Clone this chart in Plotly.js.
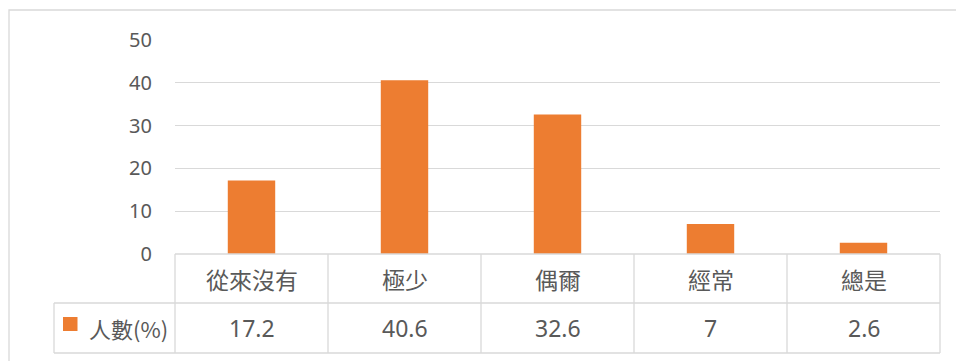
<!DOCTYPE html>
<html>
<head>
<meta charset="utf-8">
<script src="https://cdn.plot.ly/plotly-3.0.1.min.js"></script>
<style>html,body{margin:0;padding:0;background:#fff}#chart{width:956px;height:361px}</style>
</head>
<body>
<div id="chart"></div>
<script>
const categories = ['從來沒有', '極少', '偶爾', '經常', '總是'];
const values = [17.2, 40.6, 32.6, 7, 2.6];
const seriesName = '人數(%)';
const yTicks = [0, 10, 20, 30, 40, 50];

const W = 956, H = 361;
const plotL = 175, plotR = 940, plotT = 40, plotB = 254;
const row1B = 303, row2B = 353, legL = 54;
const grid = '#D9D9D9', txt = '#595959', orange = '#ED7D31';
const font = '"Noto Sans", "Noto Sans CJK TC", sans-serif';
const cjkFont = '"Noto Sans CJK TC", "Noto Sans", sans-serif';

const px = x => x / W;
const py = y => 1 - y / H;

const shapes = [];
function line(x0, y0, x1, y1, w) {
  shapes.push({type: 'line', xref: 'paper', yref: 'paper', x0: px(x0), y0: py(y0), x1: px(x1), y1: py(y1),
    line: {color: grid, width: w || 1.3}, layer: 'above'});
}
// outer chart border
shapes.push({type: 'rect', xref: 'paper', yref: 'paper', x0: px(9), y0: py(10), x1: px(970), y1: py(375),
  line: {color: grid, width: 1.3}, fillcolor: 'rgba(0,0,0,0)', layer: 'below'});
// table lines
line(plotL, plotB, plotR, plotB);
line(legL, row1B, plotR, row1B);
line(legL, row2B, plotR, row2B);
line(legL, row1B, legL, row2B);
const colW = (plotR - plotL) / categories.length;
for (let i = 0; i <= categories.length; i++) {
  const x = plotL + i * colW;
  line(x, plotB, x, row2B);
}
// legend key
shapes.push({type: 'rect', xref: 'paper', yref: 'paper', x0: px(63), y0: py(317), x1: px(77.5), y1: py(331),
  line: {width: 0}, fillcolor: orange, layer: 'above'});

const annotations = [];
categories.forEach((c, i) => {
  annotations.push({x: c, xref: 'x', y: py((plotB + row1B) / 2), yref: 'paper', text: c, showarrow: false,
    font: {family: cjkFont, size: 23, color: txt}, xanchor: 'center', yanchor: 'middle'});
  annotations.push({x: c, xref: 'x', y: py((row1B + row2B) / 2), yref: 'paper', text: String(values[i]), showarrow: false,
    font: {family: font, size: 23, color: txt}, xanchor: 'center', yanchor: 'middle'});
});
annotations.push({x: px(87), xref: 'paper', y: py((row1B + row2B) / 2), yref: 'paper', text: seriesName, showarrow: false,
  font: {family: cjkFont, size: 22, color: txt}, xanchor: 'left', yanchor: 'middle'});

const data = [{
  type: 'bar', x: categories, y: values, name: seriesName,
  marker: {color: orange, line: {width: 0}}, width: 0.31, hoverinfo: 'skip'
}];

const layout = {
  width: W, height: H,
  margin: {l: 0, r: 0, t: 0, b: 0},
  paper_bgcolor: '#fff', plot_bgcolor: 'rgba(0,0,0,0)',
  showlegend: false,
  xaxis: {domain: [px(plotL), px(plotR)], type: 'category', showticklabels: false, showgrid: false,
    zeroline: false, showline: false, ticks: '', fixedrange: true},
  yaxis: {domain: [py(plotB), py(plotT)], range: [0, 50], tickvals: yTicks, ticktext: yTicks.map(String),
    showgrid: true, gridcolor: grid, gridwidth: 1.3, zeroline: false, showline: false,
    ticks: 'outside', ticklen: 18, tickcolor: 'rgba(0,0,0,0)',
    tickfont: {family: font, size: 20, color: txt}, fixedrange: true},
  shapes: shapes,
  annotations: annotations
};

Plotly.newPlot('chart', data, layout, {displayModeBar: false, staticPlot: true});
</script>
</body>
</html>
